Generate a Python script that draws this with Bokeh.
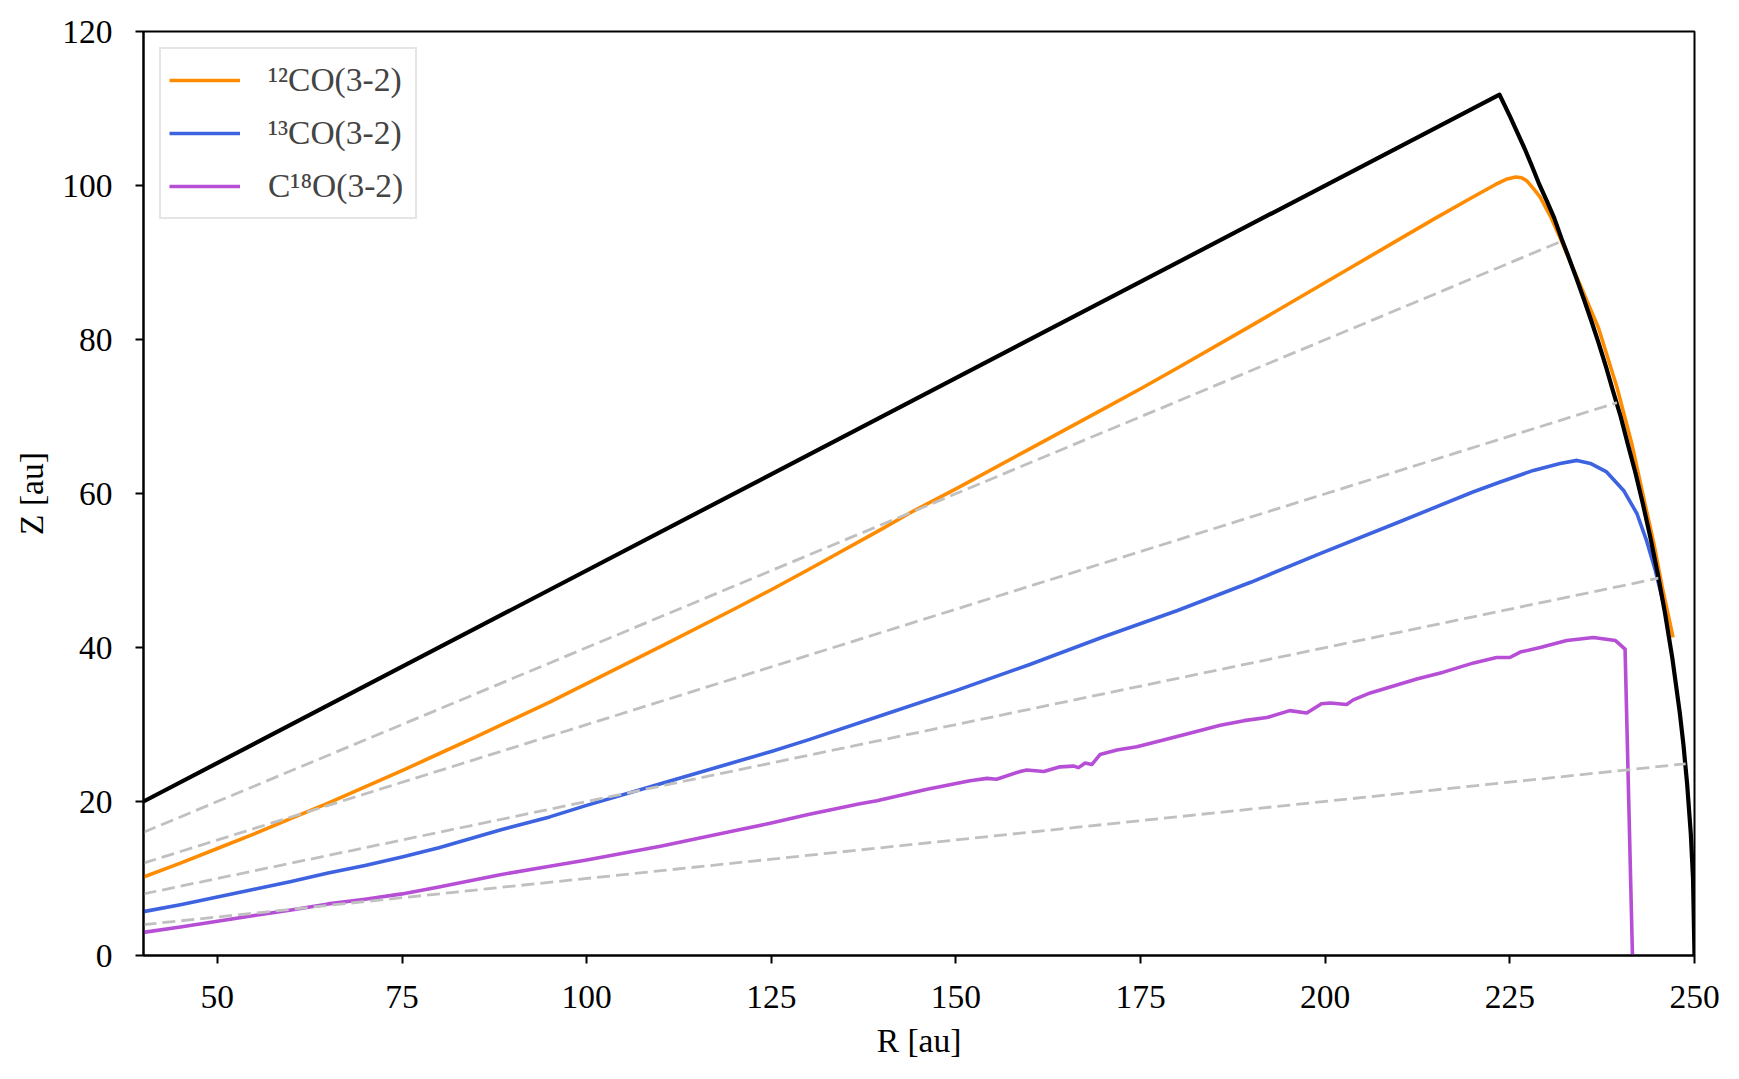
from bokeh.plotting import figure
from bokeh.models import Legend, LegendItem, FixedTicker, Range1d
from bokeh.embed import file_html
from bokeh.resources import INLINE

# ---------------- data ----------------
# 12CO(3-2) emitting surface
r_12co = [40, 45, 50, 55, 60, 65, 70, 75, 80, 85, 88.3, 95, 100, 110, 120, 125, 130,
          140, 144, 150, 160, 170, 175, 180, 190, 200, 210, 215, 220, 223, 224.5,
          225.8, 226.6, 227.3, 228.2, 229.1, 230.5, 231.8, 233.3, 235.0, 237.0, 239.5,
          241.5, 243.1, 244.5, 245.7, 247.1]
z_12co = [10.2, 12.0, 13.9, 15.8, 17.8, 19.8, 21.9, 24.0, 26.2, 28.4, 29.9, 32.9, 35.3,
          40.1, 45.0, 47.5, 50.1, 55.4, 57.6, 60.6, 65.8, 71.0, 73.6, 76.3, 81.8, 87.4,
          93.0, 95.8, 98.5, 100.1, 100.8, 101.1, 101.0, 100.6, 99.6, 98.5, 96.0, 93.2,
          89.8, 86.0, 81.5, 73.8, 66.5, 59.5, 53.5, 47.5, 41.3]

# 13CO(3-2) emitting surface
r_13co = [40, 45, 50, 55, 60, 65, 70, 75, 80, 88.3, 95, 100, 110, 120, 125, 130, 140,
          150, 160, 170, 180, 190, 199.3, 210, 220, 223.7, 228.2, 231.8, 234.1, 235.9,
          238.1, 240.4, 242.2, 243.5, 244.7, 245.8]
z_13co = [5.7, 6.6, 7.6, 8.6, 9.6, 10.7, 11.7, 12.8, 14.0, 16.3, 18.0, 19.5, 22.3, 25.1,
          26.5, 28.0, 31.2, 34.4, 37.8, 41.4, 44.8, 48.5, 52.2, 56.3, 60.2, 61.5, 63.0,
          63.9, 64.3, 63.9, 62.8, 60.4, 57.4, 53.9, 50.0, 45.7]

# C18O(3-2) emitting surface
r_c18o = [40, 45, 50, 55, 60, 65, 70, 75, 80, 88.3, 95, 100, 110, 120, 125, 130, 137,
          139.3, 146.1, 151.9, 154.2, 155.5, 158.7, 159.6, 161.9, 164.1, 165.9, 166.6,
          167.5, 168.4, 169.5, 171.8, 174.5, 177.7, 181, 185.8, 189, 192.1, 195.2,
          197.5, 199.5, 200.7, 202.9, 203.8, 206.1, 212.4, 216, 220.1, 223.2, 225,
          226.4, 229.1, 232.7, 236.3, 239.3, 240.6, 241.6]
z_c18o = [3.0, 3.7, 4.45, 5.2, 5.9, 6.7, 7.3, 8.0, 8.9, 10.5, 11.6, 12.4, 14.2, 16.2,
          17.2, 18.3, 19.7, 20.1, 21.6, 22.7, 23.0, 22.9, 23.9, 24.1, 23.9, 24.5, 24.6,
          24.4, 25.0, 24.8, 26.1, 26.7, 27.1, 27.9, 28.7, 29.9, 30.5, 30.9, 31.8, 31.5,
          32.7, 32.8, 32.6, 33.2, 34.1, 35.9, 36.8, 38.0, 38.7, 38.7, 39.4, 40.0, 40.9,
          41.3, 40.9, 39.8, 0.0]

# disc boundary (black): straight upper edge then outer edge
r_edge = [40, 223.6, 225, 226, 227, 228, 229, 230, 231, 232, 233, 234, 235, 236, 237,
          238, 239, 240, 241, 242, 243, 244, 245, 246, 247, 248, 248.5, 249, 249.5,
          249.8, 250]
z_edge = [20.0, 111.8, 109.0, 106.9, 104.8, 102.5, 100.1, 98.0, 95.8, 93.1, 90.6, 88.0,
          85.3, 82.5, 79.6, 76.5, 73.2, 70.0, 66.3, 62.7, 58.7, 54.4, 49.7, 44.5, 38.6,
          31.6, 27.4, 22.3, 15.8, 10.0, 0.0]

# constant z/r guide lines (grey dashed): start and end points
guide_r_start = [40, 40, 40, 40]
guide_z_start = [16, 12, 8, 4]
guide_r_end = [232.1, 239.5, 245.1, 248.8]
guide_z_end = [92.8, 71.8, 49.0, 24.9]

x_ticks = [50, 75, 100, 125, 150, 175, 200, 225, 250]
y_ticks = [0, 20, 40, 60, 80, 100, 120]

labels = ["\u00b9\u00b2CO(3-2)", "\u00b9\u00b3CO(3-2)", "C\u00b9\u2078O(3-2)"]
colors = ["#ff8c00", "#3d63e0", "#b64fd6"]

FONT = "Liberation Serif"
FSIZE = "33.5px"

# ---------------- figure ----------------
p = figure(width=1723, height=1063,
           x_range=Range1d(40, 250), y_range=Range1d(0, 120),
           output_backend="svg", toolbar_location=None,
           min_border_left=143, min_border_right=29,
           min_border_top=31, min_border_bottom=108)

p.background_fill_color = "white"
p.border_fill_color = "white"
p.xgrid.visible = False
p.ygrid.visible = False
p.outline_line_color = "black"
p.outline_line_width = 2
p.outline_line_alpha = 1.0

renderers = []
for rr, zz, c in zip([r_12co, r_13co, r_c18o], [z_12co, z_13co, z_c18o], colors):
    renderers.append(p.line(rr, zz, line_color=c, line_width=3.6,
                            line_join="round"))

p.line(r_edge, z_edge, line_color="black", line_width=4.2, line_join="round")

for rs, zs, re_, ze in zip(guide_r_start, guide_z_start, guide_r_end, guide_z_end):
    p.line([rs, re_], [zs, ze], line_color="#c0c0c0", line_width=2.8, line_dash="13 6")

legend = Legend(items=[LegendItem(label=l, renderers=[r]) for l, r in zip(labels, renderers)],
                location="top_left")
legend.margin = 16
legend.padding = 8
legend.spacing = 7
legend.glyph_height = 46
legend.label_height = 46
legend.glyph_width = 71
legend.label_standoff = 28
legend.label_width = 139
legend.label_text_font = FONT
legend.label_text_font_size = FSIZE
legend.border_line_color = "#cccccc"
legend.border_line_width = 2
legend.background_fill_color = "white"
legend.background_fill_alpha = 0.85
p.add_layout(legend)

for ax in (p.xaxis[0], p.yaxis[0]):
    ax.axis_line_color = "black"
    ax.axis_line_width = 2
    ax.major_tick_line_color = "black"
    ax.major_tick_line_width = 2
    ax.major_tick_out = 8
    ax.major_tick_in = 0
    ax.minor_tick_line_color = None
    ax.major_label_text_font = FONT
    ax.major_label_text_font_size = FSIZE
    ax.major_label_text_color = "black"
    ax.axis_label_text_font = FONT
    ax.axis_label_text_font_size = FSIZE
    ax.axis_label_text_font_style = "normal"
    ax.axis_label_text_color = "black"

p.xaxis[0].ticker = FixedTicker(ticks=x_ticks)
p.yaxis[0].ticker = FixedTicker(ticks=y_ticks)
p.xaxis[0].axis_label = "R [au]"
p.yaxis[0].axis_label = "Z [au]"
p.xaxis[0].major_label_standoff = 22
p.yaxis[0].major_label_standoff = 23
p.xaxis[0].axis_label_standoff = 11
p.yaxis[0].axis_label_standoff = 9

open("out.html", "w").write(file_html(p, INLINE))
